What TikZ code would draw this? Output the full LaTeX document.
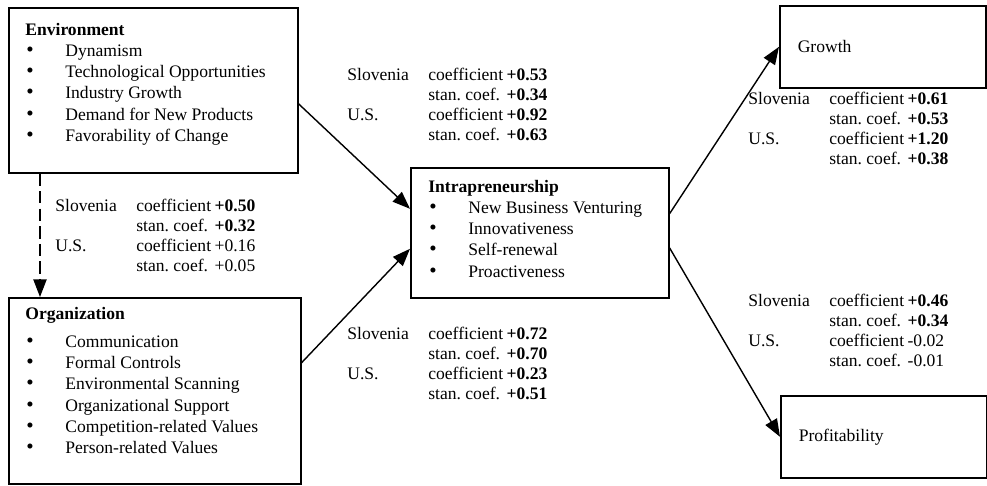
\documentclass[tikz,border=0pt]{standalone}
\usepackage{fontspec}
\setmainfont{Liberation Serif}
\usetikzlibrary{arrows.meta, positioning}

\newcommand{\blt}[1]{\hspace{0.02cm}\makebox[0.78cm][l]{\fontsize{12}{12}\selectfont\textbullet}#1}
\newcommand{\coefs}[4]{\begin{tabular}[t]{@{}p{1.62cm}@{}l@{\hspace{2pt}}l@{}}
Slovenia & coefficient & #1\\
         & stan.\ coef. & #2\\
U.S.     & coefficient & #3\\
         & stan.\ coef. & #4
\end{tabular}}

\begin{document}
\begin{tikzpicture}[x=0.02cm, y=-0.02cm,
  panel/.style={rectangle, draw, line width=0.9pt, anchor=north west, inner sep=0pt},
  list/.style={anchor=base west, inner sep=0pt, font=\fontsize{10}{12.1}\selectfont},
  coef/.style={anchor=base west, inner sep=0pt, font=\fontsize{10}{11.4}\selectfont},
  outcome/.style={panel, minimum width=4.12cm, minimum height=1.64cm, text width=3.4cm, inner xsep=0.36cm, align=left, font=\fontsize{10}{12}\selectfont},
  arr/.style={draw, line width=0.8pt, -{Triangle[length=10pt, width=7.5pt]}},
  dasharr/.style={arr, dash pattern=on 7pt off 3pt},
]
\useasboundingbox (0,0) rectangle (987,485);

% boxes
\node[panel, minimum width=5.78cm, minimum height=3.3cm] (env) at (8,7) {};
\node[list] (envlist) at (25,35) {\begin{tabular}[t]{@{}l@{}}
  \textbf{Environment}\\
  \blt{Dynamism}\\
  \blt{Technological Opportunities}\\
  \blt{Industry Growth}\\
  \blt{Demand for New Products}\\
  \blt{Favorability of Change}
\end{tabular}};

\node[panel, minimum width=5.84cm, minimum height=3.72cm] (org) at (8,297) {};
\node[list] (orglist) at (25,319) {\begin{tabular}[t]{@{}l@{}}
  \textbf{Organization}\\[4pt]
  \blt{Communication}\\
  \blt{Formal Controls}\\
  \blt{Environmental Scanning}\\
  \blt{Organizational Support}\\
  \blt{Competition-related Values}\\
  \blt{Person-related Values}
\end{tabular}};

\node[panel, minimum width=5.16cm, minimum height=2.6cm] (intra) at (410,167) {};
\node[list] (intralist) at (428,192) {\begin{tabular}[t]{@{}l@{}}
  \textbf{Intrapreneurship}\\
  \blt{New Business Venturing}\\
  \blt{Innovativeness}\\
  \blt{Self-renewal}\\
  \blt{Proactiveness}
\end{tabular}};

\node[outcome] (growth) at (779,5) {Growth};
\node[outcome] (profit) at (780,395) {Profitability};

% paths
\draw[dasharr] ([xshift=0.64cm]env.south west) -- ([xshift=0.64cm]org.north west);
\draw[arr] ([yshift=-0.27cm]env.east) -- ([yshift=0.48cm]intra.west);
\draw[arr] ([yshift=0.56cm]org.east) -- ([yshift=-0.32cm]intra.west);
\draw[arr] ([yshift=0.38cm]intra.east) -- (growth.west);
\draw[arr] ([yshift=-0.3cm]intra.east) -- (profit.west);

% coefficients
\node[coef] (eolbl) at (55,211)  {\coefs{\textbf{+0.50}}{\textbf{+0.32}}{+0.16}{+0.05}};
\node[coef] (eilbl) at (347,80)  {\coefs{\textbf{+0.53}}{\textbf{+0.34}}{\textbf{+0.92}}{\textbf{+0.63}}};
\node[coef] (oilbl) at (347,339) {\coefs{\textbf{+0.72}}{\textbf{+0.70}}{\textbf{+0.23}}{\textbf{+0.51}}};
\node[coef] (iglbl) at (748,104) {\coefs{\textbf{+0.61}}{\textbf{+0.53}}{\textbf{+1.20}}{\textbf{+0.38}}};
\node[coef] (iplbl) at (748,306) {\coefs{\textbf{+0.46}}{\textbf{+0.34}}{-0.02}{-0.01}};
\end{tikzpicture}
\end{document}
